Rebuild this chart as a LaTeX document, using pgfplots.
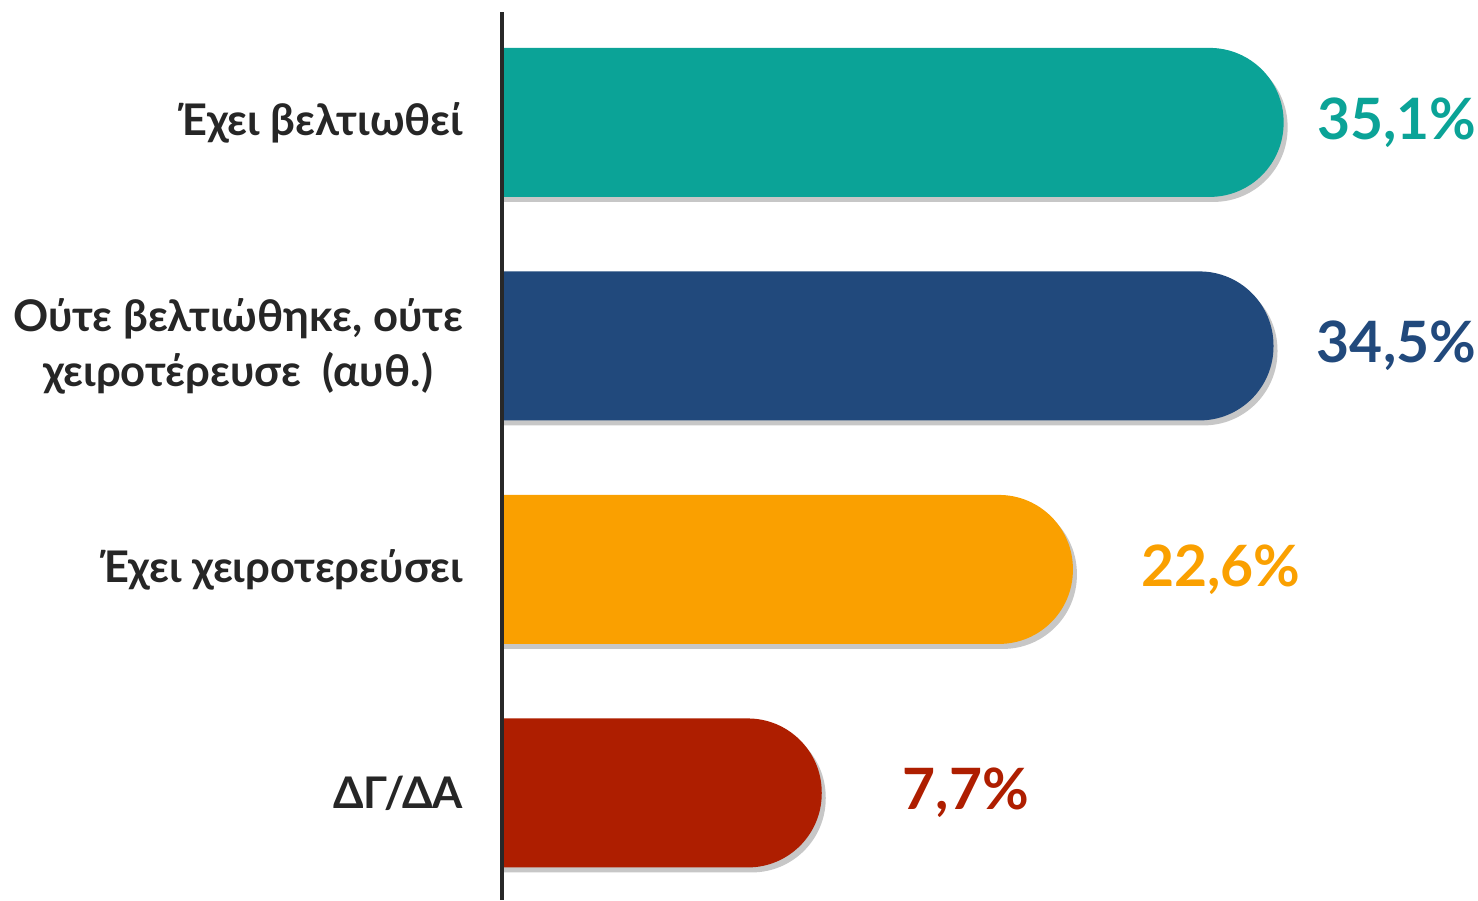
\documentclass[border=0pt]{standalone}
\usepackage{pgfplots}
\pgfplotsset{compat=1.18}
\usepackage{fontspec}
\setmainfont{Lato}
\definecolor{cteal}{RGB}{11,163,151}
\definecolor{cnavy}{RGB}{33,73,124}
\definecolor{corange}{RGB}{250,160,0}
\definecolor{cred}{RGB}{174,30,0}
\definecolor{axisgray}{RGB}{40,40,40}
\definecolor{labelgray}{RGB}{38,38,38}
\begin{document}
\begin{tikzpicture}
\begin{axis}[
  at={(0,0)}, anchor=south west,
  scale only axis, width=488pt, height=444pt,
  xmin=0, xmax=57.9,
  ymin=-0.494, ymax=3.479, y dir=reverse,
  x filter/.expression={x+16.27},
  hide x axis,
  axis y line*=left,
  y axis line style={line width=2pt, draw=axisgray},
  ytick={0,1,2,3},
  yticklabels={{Έχει βελτιωθεί},{Ούτε βελτιώθηκε, ούτε\\χειροτέρευσε\ \ (αυθ.)},{Έχει χειροτερεύσει},{ΔΓ/ΔΑ}},
  ytick style={draw=none},
  yticklabel style={font=\bfseries\fontsize{21.8}{27.5}\selectfont, text=labelgray, align=center, xshift=-16pt},
  axis on top,
  point meta=explicit,
  /pgf/number format/assume math mode=true,
  mybar/.style={xbar, bar width=74.5pt, bar shift=0pt, draw=none, rounded corners=37pt,
    transform canvas={xshift=-42.15pt},
    preaction={fill=black!22, transform canvas={xshift=2pt,yshift=-2.5pt}},
    nodes near coords={\pgfmathprintnumber[fixed,fixed zerofill,precision=1,use comma]{\pgfplotspointmeta}\%},
    every node near coord/.append style={anchor=center, font=\bfseries\fontsize{28.5}{30}\selectfont}},
]
\addplot[mybar, fill=cteal, every node near coord/.append style={text=cteal, xshift=98.65pt}] coordinates {(35.1,0) [35.1]};
\addplot[mybar, fill=cnavy, every node near coord/.append style={text=cnavy, xshift=103.65pt}] coordinates {(34.5,1) [34.5]};
\addplot[mybar, fill=corange, every node near coord/.append style={text=corange, xshift=116.15pt}] coordinates {(22.6,2) [22.6]};
\addplot[mybar, fill=cred, every node near coord/.append style={text=cred, xshift=114.15pt}] coordinates {(7.7,3) [7.7]};
\end{axis}
\pgfresetboundingbox
\useasboundingbox (-251pt,0) rectangle (488pt,450pt);
\end{tikzpicture}
\end{document}
